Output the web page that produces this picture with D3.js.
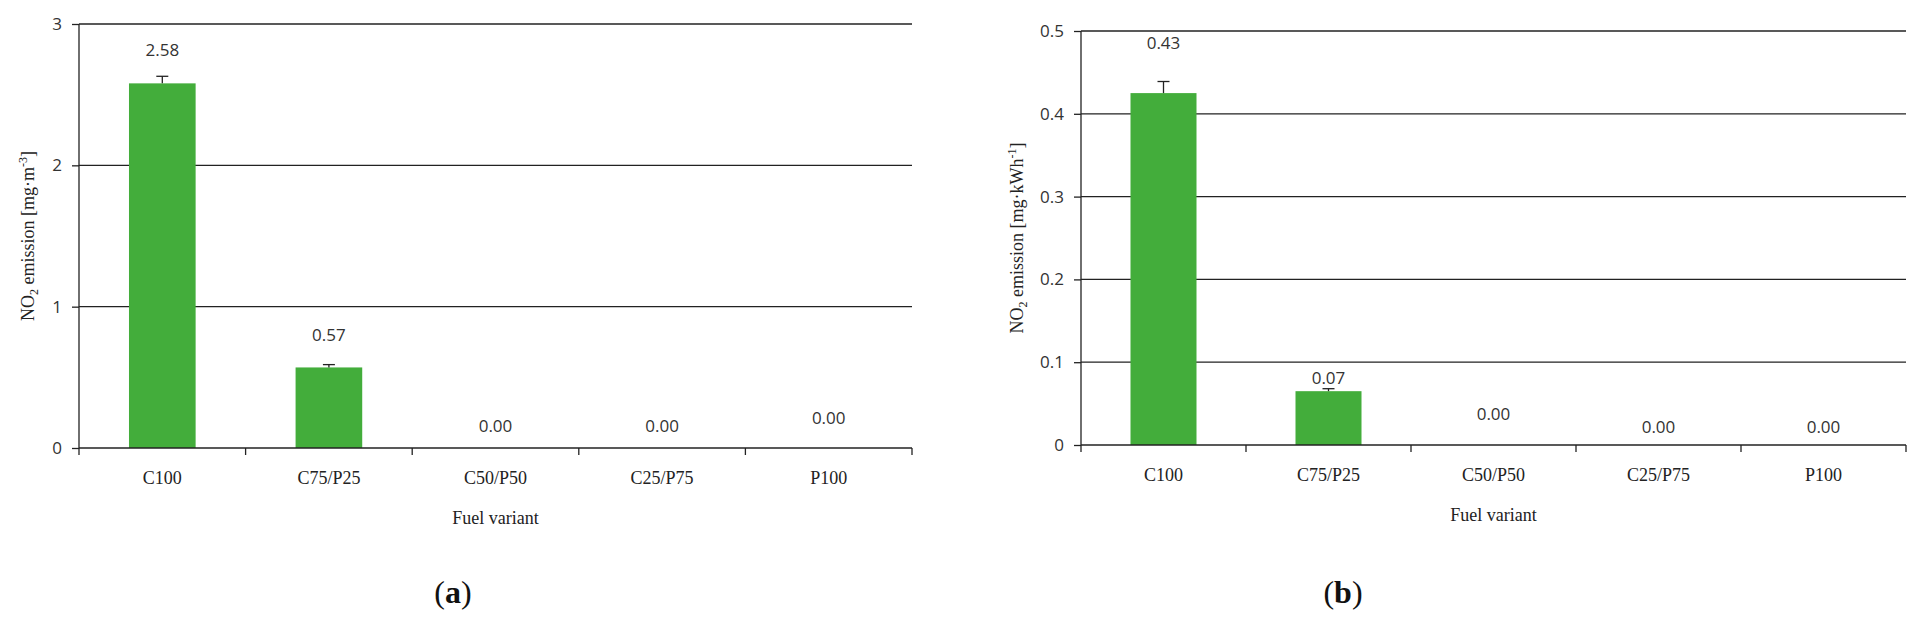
<!DOCTYPE html>
<html>
<head>
<meta charset="utf-8"/>
<script src="https://d3js.org/d3.v7.min.js"></script>
<style>
body{margin:0;background:#fff;}
.num{font-family:"Open Sans",sans-serif;font-size:17px;fill:#333;}
.cat{font-family:"Liberation Serif",serif;font-size:18px;fill:#222;}
</style>
</head>
<body>
<svg id="chart" width="1920" height="620"></svg>
<script>
var categories = ["C100","C75/P25","C50/P50","C25/P75","P100"];
var valuesA = [2.58, 0.57, 0, 0, 0];
var errorsA = [0.05, 0.02, 0, 0, 0];
var labelsA = ["2.58","0.57","0.00","0.00","0.00"];
var ticksA = [0, 1, 2, 3];
var valuesB = [0.425, 0.065, 0, 0, 0];
var errorsB = [0.014, 0.003, 0, 0, 0];
var labelsB = ["0.43","0.07","0.00","0.00","0.00"];
var ticksB = [0, 0.1, 0.2, 0.3, 0.4, 0.5];

var svg = d3.select("#chart");

function panel(o){
	var x = d3.scaleBand().domain(categories).range([o.left, o.right]).paddingInner(0.6).paddingOuter(0.3);
	var band = (o.right - o.left) / categories.length;
	var y = d3.scaleLinear().domain([0, o.max]).range([o.bottom, o.top]);
	var g = svg.append("g");

	// gridlines
	g.selectAll(".grid").data(o.ticks.slice(1)).enter().append("line")
		.attr("x1", o.left).attr("x2", o.right)
		.attr("y1", function(d){return y(d);}).attr("y2", function(d){return y(d);})
		.attr("stroke", "#222").attr("stroke-width", 1.3);

	// bars
	g.selectAll(".bar").data(o.values).enter().append("rect")
		.attr("x", function(d){return x(categories[o.values.indexOf(d)]);})
		.attr("x", function(d,i){return x(categories[i]);})
		.attr("width", x.bandwidth())
		.attr("y", function(d){return y(d);})
		.attr("height", function(d){return o.bottom - y(d);})
		.attr("fill", "#43ad3b");

	// error bars
	o.values.forEach(function(d,i){
		if (!o.errors[i]) return;
		var cx = x(categories[i]) + x.bandwidth()/2;
		g.append("line").attr("x1",cx).attr("x2",cx).attr("y1",y(d)).attr("y2",y(d+o.errors[i])).attr("stroke","#222").attr("stroke-width",1.3);
		g.append("line").attr("x1",cx-6).attr("x2",cx+6).attr("y1",y(d+o.errors[i])).attr("y2",y(d+o.errors[i])).attr("stroke","#222").attr("stroke-width",1.3);
	});

	// value labels
	g.selectAll(".vl").data(o.labels).enter().append("text")
		.attr("class","num").attr("text-anchor","middle")
		.attr("x", function(d,i){return x(categories[i]) + x.bandwidth()/2;})
		.attr("y", function(d,i){
			var top = y(o.values[i] + o.errors[i]);
			return o.values[i] ? top - o.labelGap[i] : o.bottom - o.zeroGap[i];
		})
		.text(function(d){return d;});

	// y axis
	var ya = g.append("g").attr("transform","translate(" + o.left + ",0)")
		.call(d3.axisLeft(y).tickValues(o.ticks).tickSize(7).tickPadding(10).tickFormat(function(d){return d === 0 ? "0" : d3.format(o.fmt)(d);}));
	ya.select(".domain").attr("stroke","#222").attr("stroke-width",1.3).attr("d","M0," + o.top + "V" + o.bottom);
	ya.selectAll(".tick line").attr("stroke","#222").attr("stroke-width",1.3);
	ya.selectAll(".tick text").attr("class","num").attr("font-size",null).attr("font-family",null).attr("fill",null);

	// x axis
	g.append("line").attr("x1",o.left).attr("x2",o.right).attr("y1",o.bottom).attr("y2",o.bottom).attr("stroke","#222").attr("stroke-width",1.3);
	d3.range(categories.length + 1).forEach(function(i){
		var tx = o.left + band*i;
		g.append("line").attr("x1",tx).attr("x2",tx).attr("y1",o.bottom).attr("y2",o.bottom+7).attr("stroke","#222").attr("stroke-width",1.3);
	});
	g.selectAll(".cl").data(categories).enter().append("text")
		.attr("class","cat").attr("text-anchor","middle")
		.attr("x", function(d){return x(d) + x.bandwidth()/2;})
		.attr("y", o.bottom + 36).text(function(d){return d;});

	g.append("text").attr("class","cat").attr("text-anchor","middle")
		.attr("x",(o.left+o.right)/2).attr("y",o.bottom+76).text("Fuel variant");

	var yl = g.append("text").attr("class","cat").attr("text-anchor","middle")
		.attr("transform","translate(" + o.ylabX + "," + ((o.top+o.bottom)/2) + ") rotate(-90)");
	yl.append("tspan").text("NO");
	yl.append("tspan").attr("font-size","12px").attr("dy","4").text("2");
	yl.append("tspan").attr("dy","-4").text(" emission [" + o.unit);
	yl.append("tspan").attr("font-size","12px").attr("dy","-7").text(o.exp);
	yl.append("tspan").attr("dy","7").text("]");

	g.append("text").attr("x",o.capX).attr("y",603).attr("text-anchor","middle")
		.style("font-family","'Liberation Serif',serif").style("font-size","32px").attr("fill","#111")
		.html("(<tspan font-weight='bold'>" + o.cap + "</tspan>)");
}

panel({left:79, right:912, top:24, bottom:448, max:3, ticks:ticksA, fmt:"d",
	values:valuesA, errors:errorsA, labels:labelsA, labelGap:[20,24], zeroGap:[0,0,16,16,24],
	ylabX:34, unit:"mg·m", exp:"-3", cap:"a", capX:453});
panel({left:1081, right:1906, top:31, bottom:445, max:0.5, ticks:ticksB, fmt:".1f",
	values:valuesB, errors:errorsB, labels:labelsB, labelGap:[33,5], zeroGap:[0,0,25,12,12],
	ylabX:1023, unit:"mg·kWh", exp:"-1", cap:"b", capX:1343});
</script>
</body>
</html>
